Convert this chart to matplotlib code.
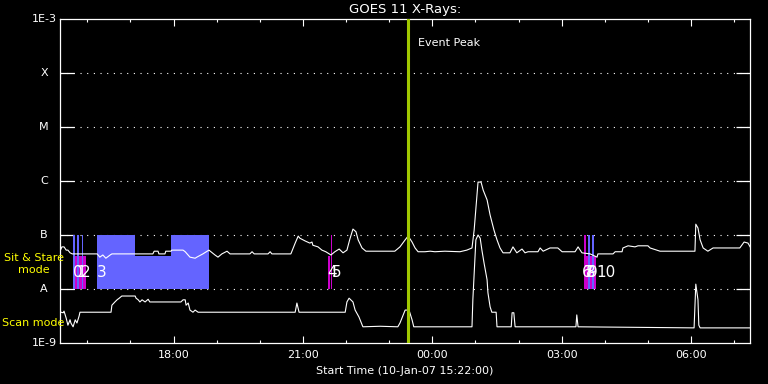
import matplotlib
matplotlib.use('Agg')
import matplotlib.pyplot as plt
from matplotlib.ticker import NullLocator
import numpy as np

# ---- data (time in hours after 00:00 on 10-Jan-07; values = log10 flux W/m^2) ----
t_start = 15 + 22 / 60.0
t_end = t_start + 16.0

t_long = [15.39, 15.41, 15.46, 15.51, 15.55, 15.60, 15.65, 16.23, 16.29, 16.36, 16.43, 16.53,
          16.57, 17.52, 17.55, 17.64, 17.66, 17.80, 17.82, 17.94, 17.96, 18.22, 18.27, 18.38,
          18.50, 18.54, 18.68, 18.82, 18.96, 19.03, 19.12, 19.24, 19.31, 19.77, 19.82, 19.87,
          20.19, 20.24, 20.28, 20.72, 20.82, 20.89, 20.93, 21.05, 21.16, 21.21, 21.23, 21.35,
          21.44, 21.53, 21.65, 21.74, 21.84, 21.93, 22.02, 22.09, 22.16, 22.23, 22.28, 22.37,
          22.46, 23.13, 23.25, 23.37, 23.44, 23.53, 23.60, 23.67, 23.83, 23.95, 24.06, 24.29,
          24.64, 24.80, 24.92, 24.97, 25.06, 25.13, 25.18, 25.27, 25.34, 25.43, 25.50, 25.57,
          25.64, 25.80, 25.87, 25.96, 26.08, 26.15, 26.22, 26.45, 26.50, 26.57, 26.73, 26.91,
          27.01, 27.31, 27.38, 27.47, 27.66, 27.82, 27.84, 28.19, 28.24, 28.40, 28.42, 28.54,
          28.70, 28.77, 29.00, 29.05, 29.28, 30.09, 30.11, 30.16, 30.21, 30.28, 30.39, 30.51,
          31.13, 31.23, 31.32, 31.37]
logf_long = [-7.26, -7.22, -7.22, -7.28, -7.28, -7.33, -7.35, -7.35, -7.41, -7.37, -7.43, -7.37,
             -7.35, -7.35, -7.30, -7.30, -7.35, -7.35, -7.30, -7.30, -7.28, -7.28, -7.31, -7.41,
             -7.43, -7.41, -7.35, -7.28, -7.37, -7.41, -7.35, -7.30, -7.35, -7.35, -7.31, -7.35,
             -7.35, -7.31, -7.35, -7.35, -7.15, -7.02, -7.06, -7.11, -7.15, -7.13, -7.19, -7.22,
             -7.28, -7.31, -7.37, -7.31, -7.26, -7.33, -7.28, -7.07, -6.89, -6.94, -7.09, -7.24,
             -7.30, -7.30, -7.22, -7.09, -7.02, -7.13, -7.24, -7.31, -7.31, -7.30, -7.31, -7.30,
             -7.31, -7.28, -7.24, -6.91, -6.02, -6.02, -6.17, -6.35, -6.63, -6.91, -7.09, -7.24,
             -7.33, -7.33, -7.22, -7.33, -7.26, -7.33, -7.31, -7.31, -7.24, -7.30, -7.24, -7.24,
             -7.31, -7.31, -7.22, -7.33, -7.35, -7.41, -7.35, -7.35, -7.31, -7.31, -7.24, -7.20,
             -7.22, -7.20, -7.20, -7.24, -7.30, -7.30, -6.80, -6.87, -7.09, -7.24, -7.30, -7.24,
             -7.24, -7.13, -7.15, -7.22]

t_short = [15.39, 15.44, 15.46, 15.51, 15.55, 15.60, 15.62, 15.67, 15.72, 15.76, 15.81, 15.83,
           16.55, 16.57, 16.64, 16.69, 16.74, 16.80, 17.11, 17.13, 17.18, 17.22, 17.27, 17.34,
           17.41, 17.45, 18.17, 18.22, 18.27, 18.29, 18.34, 18.38, 18.45, 18.50, 18.57, 20.82,
           20.86, 20.91, 21.98, 22.02, 22.07, 22.16, 22.21, 22.30, 22.39, 22.79, 23.20, 23.25,
           23.37, 23.46, 23.53, 23.57, 24.92, 24.94, 25.01, 25.06, 25.11, 25.15, 25.20, 25.27,
           25.29, 25.34, 25.38, 25.48, 25.50, 25.83, 25.85, 25.89, 25.92, 27.33, 27.35, 27.38,
           30.07, 30.11, 30.16, 30.18, 30.21, 31.37]
logf_short = [-8.43, -8.44, -8.41, -8.54, -8.67, -8.57, -8.63, -8.70, -8.57, -8.63, -8.50, -8.43,
              -8.43, -8.30, -8.24, -8.20, -8.17, -8.13, -8.13, -8.17, -8.20, -8.24, -8.20, -8.24,
              -8.19, -8.24, -8.24, -8.20, -8.20, -8.30, -8.26, -8.39, -8.43, -8.39, -8.43, -8.43,
              -8.26, -8.43, -8.43, -8.24, -8.17, -8.24, -8.39, -8.52, -8.70, -8.69, -8.70, -8.63,
              -8.39, -8.39, -8.57, -8.70, -8.70, -8.20, -7.09, -7.00, -7.06, -7.28, -7.52, -7.83,
              -8.07, -8.33, -8.43, -8.43, -8.70, -8.70, -8.44, -8.44, -8.70, -8.70, -8.48, -8.70,
              -8.72, -7.91, -8.20, -8.67, -8.72, -8.72]

# observation bands (start, end) in hours
blue_full_start = [15.67, 15.76, 15.88, 16.23, 17.94, 27.61, 27.70]
blue_full_end = [15.71, 15.80, 15.91, 17.11, 18.82, 27.66, 27.75]
blue_low_start = [17.11]
blue_low_end = [17.94]
mag_low_start = [15.72, 21.58, 27.52]
mag_low_end = [15.97, 21.63, 27.80]
mag_full_start = [21.65, 27.52]
mag_full_end = [21.67, 27.57]
band_bottom = -8.0
band_top = -7.0
band_mid = -7.39

obs_labels = ['0', '1', '2', '3', '4', '5', '6', '7', '8', '9', '10']
obs_label_t = [15.78, 15.85, 15.97, 16.34, 21.67, 21.79, 27.59, 27.63, 27.68, 27.72, 28.03]
obs_label_level = -7.69

event_peak_t = 23.44

class_levels = [1e-3, 1e-4, 1e-5, 1e-6, 1e-7, 1e-8, 1e-9]
class_labels = ['1E-3', 'X', 'M', 'C', 'B', 'A', '1E-9']
hour_ticks = [18, 21, 24, 27, 30]
hour_labels = ['18:00', '21:00', '00:00', '03:00', '06:00']

# ---- figure ----
BLUE = '#6464ff'
MAG = '#cc00cc'
GREEN = '#a0c800'

fig = plt.figure(figsize=(7.68, 3.84), dpi=100, facecolor='black')
ax = fig.add_axes([60 / 768, 41 / 384, 690 / 768, 324 / 384])
ax.set_facecolor('black')
ax.set_yscale('log')
ax.set_ylim(1e-9, 1e-3)
ax.set_xlim(t_start, t_end)

def band(s, e, lo, hi, color, z):
    ax.fill_between([s, e], [10 ** lo] * 2, [10 ** hi] * 2, color=color, lw=0, zorder=z)

for s, e in zip(blue_low_start, blue_low_end):
    band(s, e, band_bottom, band_mid, BLUE, 1)
for s, e in zip(mag_low_start, mag_low_end):
    band(s, e, band_bottom, band_mid, MAG, 1)
for s, e in zip(mag_full_start, mag_full_end):
    band(s, e, band_bottom, band_top, MAG, 1.5)
for s, e in zip(blue_full_start, blue_full_end):
    band(s, e, band_bottom, band_top, BLUE, 1.6)

ax.plot(t_long, 10 ** np.array(logf_long), color='white', lw=0.8, zorder=3)
ax.plot(t_short, 10 ** np.array(logf_short), color='white', lw=0.8, zorder=3)

for lab, t in zip(obs_labels, obs_label_t):
    ax.text(t, 10 ** obs_label_level, lab, color='white', fontsize=11,
            ha='center', va='center', zorder=4)

ax.axvline(event_peak_t, color=GREEN, lw=2.2, zorder=5)
ax.annotate('Event Peak', xy=(event_peak_t, 0.926), xycoords=('data', 'axes fraction'),
            xytext=(7, 0), textcoords='offset points', color='white', fontsize=8,
            ha='left', va='center')

# axes styling
for sp in ax.spines.values():
    sp.set_color('white')
    sp.set_linewidth(0.9)

ax.set_xticks(hour_ticks)
ax.set_xticklabels(hour_labels)
ax.set_xticks(np.arange(16, 32), minor=True)
ax.tick_params(axis='x', which='major', direction='in', length=5, width=0.8,
               top=True, bottom=True, colors='white', labelsize=8, pad=5)
ax.tick_params(axis='x', which='minor', direction='in', length=2.5, width=0.8,
               top=True, bottom=True, colors='white')

ax.set_yticks(class_levels[1:-1])
ax.yaxis.set_minor_locator(NullLocator())
ax.tick_params(axis='y', which='major', direction='in', length=10, width=0.9,
               left=True, right=True, labelleft=False, colors='white')
ax.grid(axis='y', which='major', color='white', linestyle=(0, (1, 5)), linewidth=0.8)

for lev, lab in zip(class_levels, class_labels):
    ax.text(-0.0232, lev, lab, transform=ax.get_yaxis_transform(), color='white',
            fontsize=8, ha='center', va='center')

ax.set_title('GOES 11 X-Rays:', color='white', fontsize=9.5, pad=4)
ax.set_xlabel('Start Time (10-Jan-07 15:22:00)', color='white', fontsize=8, labelpad=4)

fig.text(34 / 768, 1 - 264 / 384, 'Sit & Stare\nmode', color='yellow', fontsize=8,
         ha='center', va='center', multialignment='center', linespacing=1.25)
fig.text(2 / 768, 1 - 323 / 384, 'Scan mode', color='yellow', fontsize=8,
         ha='left', va='center')

fig.savefig('out.png', dpi=100, facecolor='black')
